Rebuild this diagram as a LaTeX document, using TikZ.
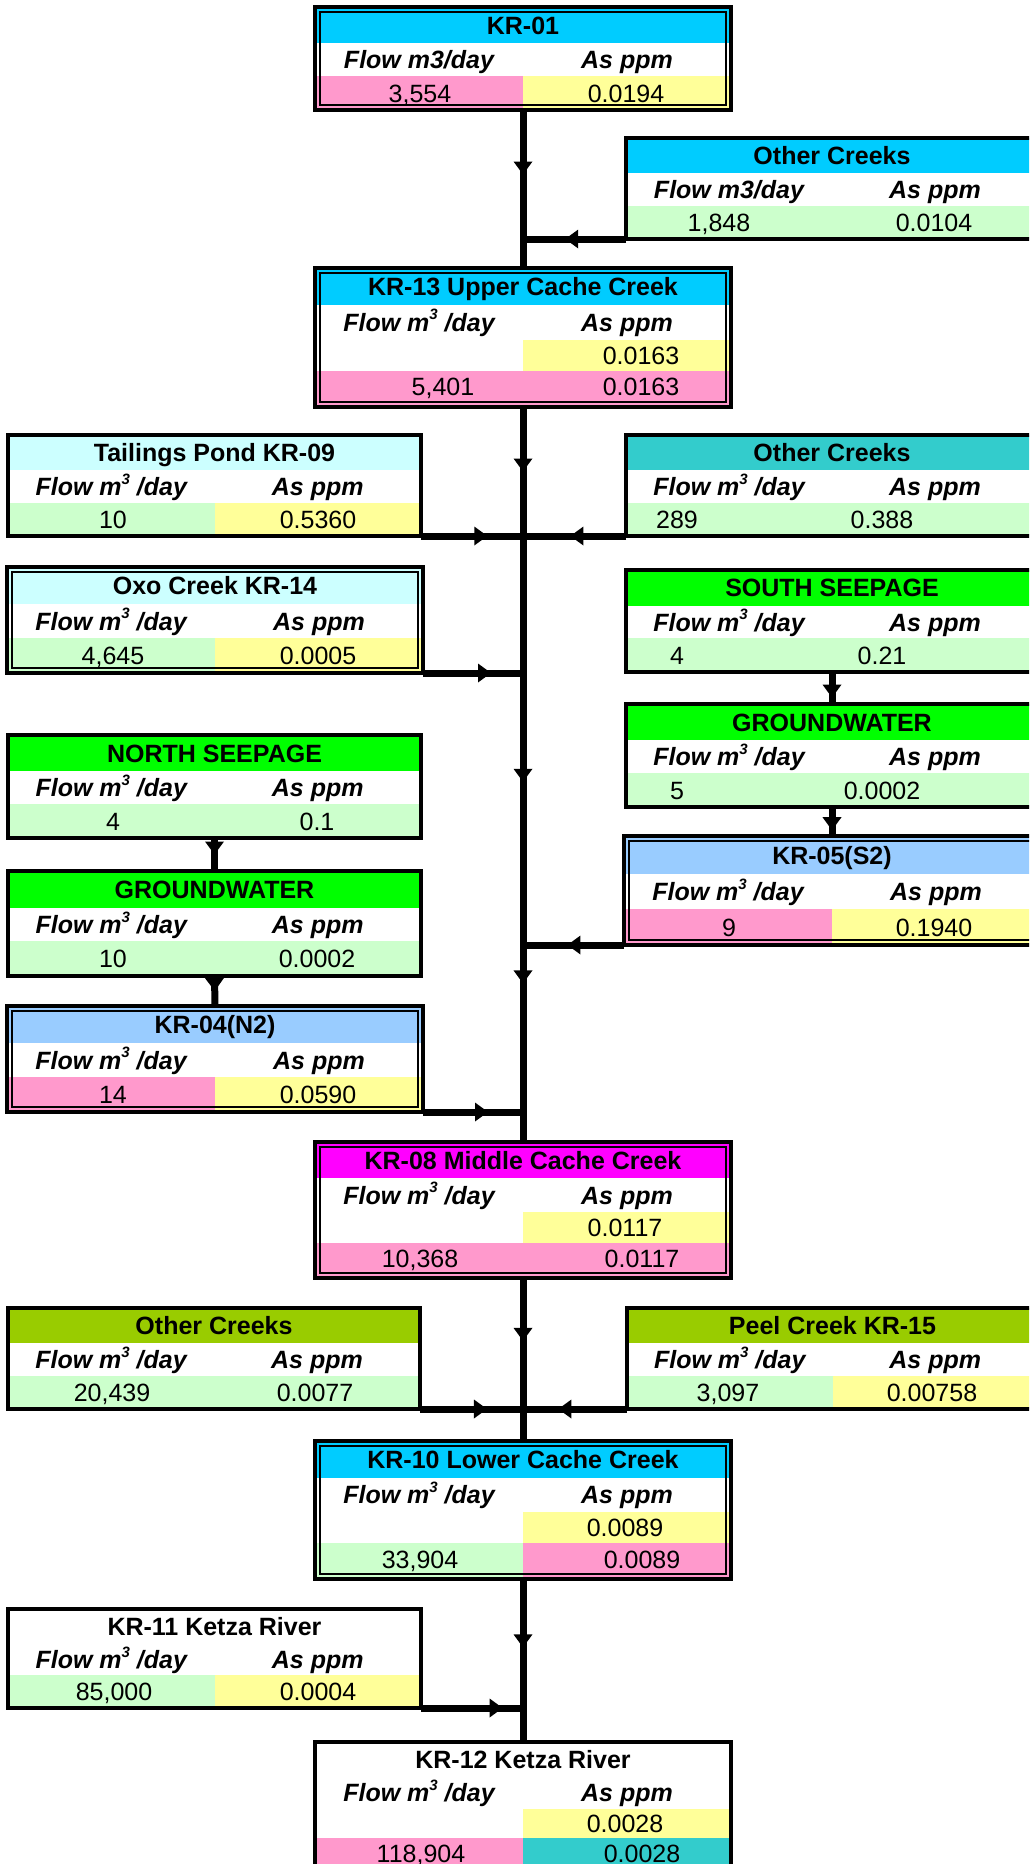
\documentclass[tikz,border=0pt]{standalone}
\usepackage{fontspec}
\setmainfont{Liberation Sans}
\usepackage{tikz}
\usetikzlibrary{arrows.meta, decorations.markings}
\usepackage{xcolor}

\definecolor{kcyan}{HTML}{00CCFF}
\definecolor{kpink}{HTML}{FF99CC}
\definecolor{kyellow}{HTML}{FFFF99}
\definecolor{kmint}{HTML}{CCFFCC}
\definecolor{kpale}{HTML}{CCFFFF}
\definecolor{kteal}{HTML}{33CCCC}
\definecolor{klime}{HTML}{00FF00}
\definecolor{ksky}{HTML}{99CCFF}
\definecolor{kmagenta}{HTML}{FF00FF}
\definecolor{kolive}{HTML}{99CC00}

\newcommand\fplain{Flow m3/day}
\newcommand\fsup{Flow m\raisebox{0.45em}{\fontsize{15}{15}\selectfont 3}\ /day}

\tikzset{
  cell/.style={inner sep=0pt, outer sep=0pt, text height=18pt, text depth=0pt,
               font=\fontsize{25}{30}\selectfont},
  titletext/.style={cell, font=\fontsize{25}{30}\selectfont\bfseries},
  headtext/.style={cell, font=\fontsize{25}{30}\selectfont\bfseries\itshape},
  valtext/.style={cell},
  plainframe/.style={draw, line width=3.5pt, inner sep=0pt, outer sep=0pt},
  doubleframe/.style={plainframe, path picture={
      \draw[line width=1.2pt] ([shift={(5pt,-5pt)}]path picture bounding box.north west)
        rectangle ([shift={(-5pt,5pt)}]path picture bounding box.south east);}},
  flow/.style={line width=7pt},
  midarrow/.style={postaction={decorate}, decoration={markings,
      mark=at position #1 with {\arrow{Triangle[width=19pt, length=13pt, line width=0pt]}}}}
}

\begin{document}
\begin{tikzpicture}[x=1pt, y=-1pt]
    \useasboundingbox (0,0) rectangle (1029,1864);
    \clip (0,0) rectangle (1029,1864);
    \fill[white] (0,0) rectangle (1029,1864);
    \def\ml{315} % main column
    \def\mr{731}
    \def\mm{523}

    % boxes with one value row
    \foreach \nm/\xl/\xr/\yt/\yb/\fr/\tc/\ttl/\hd/\lc/\lv/\lx/\rc/\rv/\rx in {
      kr01/315/731/7/110/doubleframe/kcyan/KR-01/\fplain/kpink/{3,554}/420/kyellow/0.0194/626,
      oc1/626/1038/138/239/plainframe/kcyan/Other Creeks/\fplain/kmint/{1,848}/719/kmint/0.0104/934,
      tail/8/421/435/536/plainframe/kpale/Tailings Pond KR-09/\fsup/kmint/10/113/kyellow/0.5360/318,
      oc2/626/1038/435/536/plainframe/kteal/Other Creeks/\fsup/kmint/289/677/kmint/0.388/882,
      oxo/7/423/567/673/doubleframe/kpale/Oxo Creek KR-14/\fsup/kmint/{4,645}/113/kyellow/0.0005/318,
      south/626/1038/570/672/plainframe/klime/SOUTH SEEPAGE/\fsup/kmint/4/677/kmint/0.21/882,
      gwr/626/1038/704/807/plainframe/klime/GROUNDWATER/\fsup/kmint/5/677/kmint/0.0002/882,
      kr05/624/1040/836/945/doubleframe/ksky/KR-05(S2)/\fsup/kpink/9/729/kyellow/0.1940/934,
      north/8/421/735/838/plainframe/klime/NORTH SEEPAGE/\fsup/kmint/4/113/kmint/0.1/317,
      gwl/8/421/871/976/plainframe/klime/GROUNDWATER/\fsup/kmint/10/113/kmint/0.0002/317,
      kr04/7/423/1006/1112/doubleframe/ksky/KR-04(N2)/\fsup/kpink/14/113/kyellow/0.0590/318,
      ocg/8/420/1308/1409/plainframe/kolive/Other Creeks/\fsup/kmint/{20,439}/112/kmint/0.0077/315,
      peel/627/1038/1308/1409/plainframe/kolive/Peel Creek KR-15/\fsup/kmint/{3,097}/728/kyellow/0.00758/932,
      kr11/8/421/1609/1708/plainframe/white/KR-11 Ketza River/\fsup/kmint/{85,000}/114/kyellow/0.0004/318}{
      \pgfmathsetmacro\xm{(\xl+\xr)/2}
      \pgfmathsetmacro\ya{\yt+0.35*(\yb-\yt)}
      \pgfmathsetmacro\ys{\yt+0.67*(\yb-\yt)}
      \fill[\tc] (\xl,\yt) rectangle (\xr,\ya);
      \fill[\lc] (\xl,\ys) rectangle (\xm,\yb);
      \fill[\rc] (\xm,\ys) rectangle (\xr,\yb);
      \node[\fr, minimum width={(\xr-\xl)*1pt}, minimum height={(\yb-\yt)*1pt}] (\nm) at (\xm,{(\yt+\yb)/2}) {};
      \node[titletext] (\nm-title) at (\xm,{(\yt+\ya)/2}) {\ttl};
      \node[headtext] (\nm-flow) at ({(\xl+\xm)/2},{(\ya+\ys)/2}) {\hd};
      \node[headtext] (\nm-as) at ({(\xm+\xr)/2},{(\ya+\ys)/2}) {As ppm};
      \node[valtext] (\nm-lv) at (\lx,{(\ys+\yb)/2}) {\lv};
      \node[valtext] (\nm-rv) at (\rx,{(\ys+\yb)/2}) {\rv};
    }

    % main stations with two value rows
    \foreach \nm/\yt/\yb/\fr/\tc/\ttl/\yv/\yx/\lc/\lv/\lx/\rc/\rv/\rx in {
      kr13/268/407/doubleframe/kcyan/KR-13 Upper Cache Creek/0.0163/641/kpink/{5,401}/443/kpink/0.0163/641,
      kr08/1142/1278/doubleframe/kmagenta/KR-08 Middle Cache Creek/0.0117/625/kpink/{10,368}/420/kpink/0.0117/642,
      kr10/1441/1579/doubleframe/kcyan/KR-10 Lower Cache Creek/0.0089/625/kmint/{33,904}/420/kpink/0.0089/642,
      kr12/1742/1872/plainframe/white/KR-12 Ketza River/0.0028/625/kpink/{118,904}/421/kteal/0.0028/642}{
      \pgfmathsetmacro\ya{\yt+0.265*(\yb-\yt)}
      \pgfmathsetmacro\ys{\yt+0.515*(\yb-\yt)}
      \pgfmathsetmacro\yy{\yt+0.74*(\yb-\yt)}
      \fill[\tc] (\ml,\yt) rectangle (\mr,\ya);
      \fill[kyellow] (\mm,\ys) rectangle (\mr,\yy);
      \fill[\lc] (\ml,\yy) rectangle (\mm,\yb);
      \fill[\rc] (\mm,\yy) rectangle (\mr,\yb);
      \node[\fr, minimum width={(\mr-\ml)*1pt}, minimum height={(\yb-\yt)*1pt}] (\nm) at (\mm,{(\yt+\yb)/2}) {};
      \node[titletext] (\nm-title) at (\mm,{(\yt+\ya)/2}) {\ttl};
      \node[headtext] (\nm-flow) at ({(\ml+\mm)/2},{(\ya+\ys)/2}) {\fsup};
      \node[headtext] (\nm-as) at ({(\mm+\mr)/2},{(\ya+\ys)/2}) {As ppm};
      \node[valtext] (\nm-yv) at (\yx,{(\ys+\yy)/2}) {\yv};
      \node[valtext] (\nm-lv) at (\lx,{(\yy+\yb)/2-2}) {\lv};
      \node[valtext] (\nm-rv) at (\rx,{(\yy+\yb)/2-2}) {\rv};
    }

    % junctions on the creek
    \coordinate (j1) at (kr01.south |- oc1.south west);
    \coordinate (j2) at (kr13.south |- tail.south east);
    \coordinate (j3) at (kr13.south |- oxo.south east);
    \coordinate (j4) at (kr13.south |- kr05.south west);
    \coordinate (j5) at (kr13.south |- kr04.south east);
    \coordinate (j6) at (kr08.south |- ocg.south east);
    \coordinate (j7) at (kr10.south |- kr11.south east);

    \draw[flow, midarrow=0.5] (kr01.south) -- (j1);
    \draw[flow] (j1) -- (kr13.north);
    \draw[flow, midarrow=0.59] (oc1.south west) -- (j1);
    \draw[flow, midarrow=0.5] (kr13.south) -- (j2);
    \draw[flow, midarrow=0.65] (tail.south east) -- (j2);
    \draw[flow, midarrow=0.54] (oc2.south west) -- (j2);
    \draw[flow] (j2) -- (j3);
    \draw[flow, midarrow=0.68] (oxo.south east) -- (j3);
    \draw[flow, midarrow=0.4] (j3) -- (j4);
    \draw[flow, midarrow=0.56] (kr05.south west) -- (j4);
    \draw[flow, midarrow=0.23] (j4) -- (j5);
    \draw[flow, midarrow=0.65] (kr04.south east) -- (j5);
    \draw[flow] (j5) -- (kr08.north);
    \draw[flow, midarrow=0.48] (kr08.south) -- (j6);
    \draw[flow, midarrow=0.65] (ocg.south east) -- (j6);
    \draw[flow, midarrow=0.66] (peel.south west) -- (j6);
    \draw[flow] (j6) -- (kr10.north);
    \draw[flow, midarrow=0.53] (kr10.south) -- (j7);
    \draw[flow, midarrow=0.8] (kr11.south east) -- (j7);
    \draw[flow] (j7) -- (kr12.north);

    % seepage into groundwater
    \draw[flow, midarrow=0.8] (south.south) -- (gwr.north);
    \draw[flow, midarrow=0.8] (gwr.south) -- (kr05.north);
    \draw[flow, midarrow=0.5] (north.south) -- (gwl.north);
    \draw[flow, midarrow=0.5] (gwl.south) -- (kr04.north);
\end{tikzpicture}
\end{document}
